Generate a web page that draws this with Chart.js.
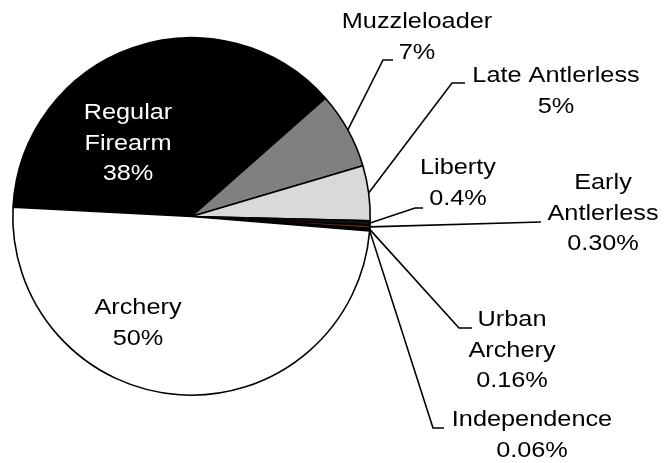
<!DOCTYPE html>
<html>
<head>
<meta charset="utf-8">
<script src="https://cdn.jsdelivr.net/npm/chart.js@4"></script>
<style>
  html, body { margin: 0; padding: 0; background: #fff; }
  #wrap { width: 667px; height: 463px; position: relative; }
</style>
</head>
<body>
<div id="wrap"><canvas id="pie-chart"></canvas></div>
<script>
// ─── DATA ─────────────────────────────────────────────────
const seasons = ['Regular\nFirearm', 'Muzzleloader', 'Late Antlerless', 'Liberty',
                 'Early\nAntlerless', 'Urban\nArchery', 'Independence', 'Archery'];
const shares = [38, 7, 5, 0.4, 0.30, 0.16, 0.06, 50];
const shareLabels = ['38%', '7%', '5%', '0.4%', '0.30%', '0.16%', '0.06%', '50%'];
const sliceColors = ['#000000', '#808080', '#d9d9d9', '#111111', '#6b2424', '#000000', '#ffffff', '#ffffff'];

// label placement (text centre of first line, leader elbow, leader end)
const labelLayout = [
    { x: 128, y: 113, color: '#fff', inside: true },
    { x: 417, y: 22, ex: 383, ey: 60, hx: 393 },
    { x: 556, y: 76, ex: 452, ey: 83, hx: 465 },
    { x: 458, y: 168, ex: 415, ey: 208, hx: 423 },
    { x: 603, y: 183, ex: 541, ey: 222, hx: 541 },
    { x: 512, y: 320, ex: 459, ey: 328, hx: 472 },
    { x: 532, y: 420, ex: 433, ey: 428, hx: 444 },
    { x: 138, y: 308, color: '#000', inside: true }
];

// ─── LABEL PLUGIN ─────────────────────────────────────────
const pieLabels = {
    id: 'pieLabels',
    afterDatasetsDraw(chart) {
        const c = chart.ctx;
        const arcs = chart.getDatasetMeta(0).data;
        c.save();
        c.font = '22px "Liberation Sans", Arial, sans-serif';
        c.textAlign = 'center';
        c.textBaseline = 'middle';
        arcs.forEach((arc, i) => {
            const L = labelLayout[i];
            if (!L.inside) {
                const { x, y, startAngle, endAngle, outerRadius } = arc.getProps(['x', 'y', 'startAngle', 'endAngle', 'outerRadius'], true);
                const mid = (startAngle + endAngle) / 2;
                c.beginPath();
                c.moveTo(x + outerRadius * Math.cos(mid), y + outerRadius * Math.sin(mid));
                c.lineTo(L.ex, L.ey);
                c.lineTo(L.hx, L.ey);
                c.strokeStyle = '#000';
                c.lineWidth = 1.6;
                c.stroke();
            }
            c.fillStyle = L.color || '#000';
            const lines = seasons[i].split('\n').concat(shareLabels[i]);
            lines.forEach((t, k) => {
                // reference text is a bit wider than the font's natural width
                c.save();
                c.translate(L.x, L.y + k * 30.5);
                c.scale(1.15, 1);
                c.fillText(t, 0, 0);
                c.restore();
            });
        });
        c.restore();
    }
};

// ─── PIE CHART ────────────────────────────────────────────
new Chart(document.getElementById('pie-chart'), {
    type: 'pie',
    data: {
        labels: seasons,
        datasets: [{
            data: shares,
            backgroundColor: sliceColors,
            borderColor: '#000',
            borderWidth: 1.6
        }]
    },
    options: {
        responsive: true,
        maintainAspectRatio: false,
        animation: false,
        rotation: -87,
        layout: { padding: { left: 12, top: 37, right: 296, bottom: 67 } },
        plugins: {
            legend: { display: false },
            tooltip: { enabled: false }
        }
    },
    plugins: [pieLabels]
});
</script>
</body>
</html>
